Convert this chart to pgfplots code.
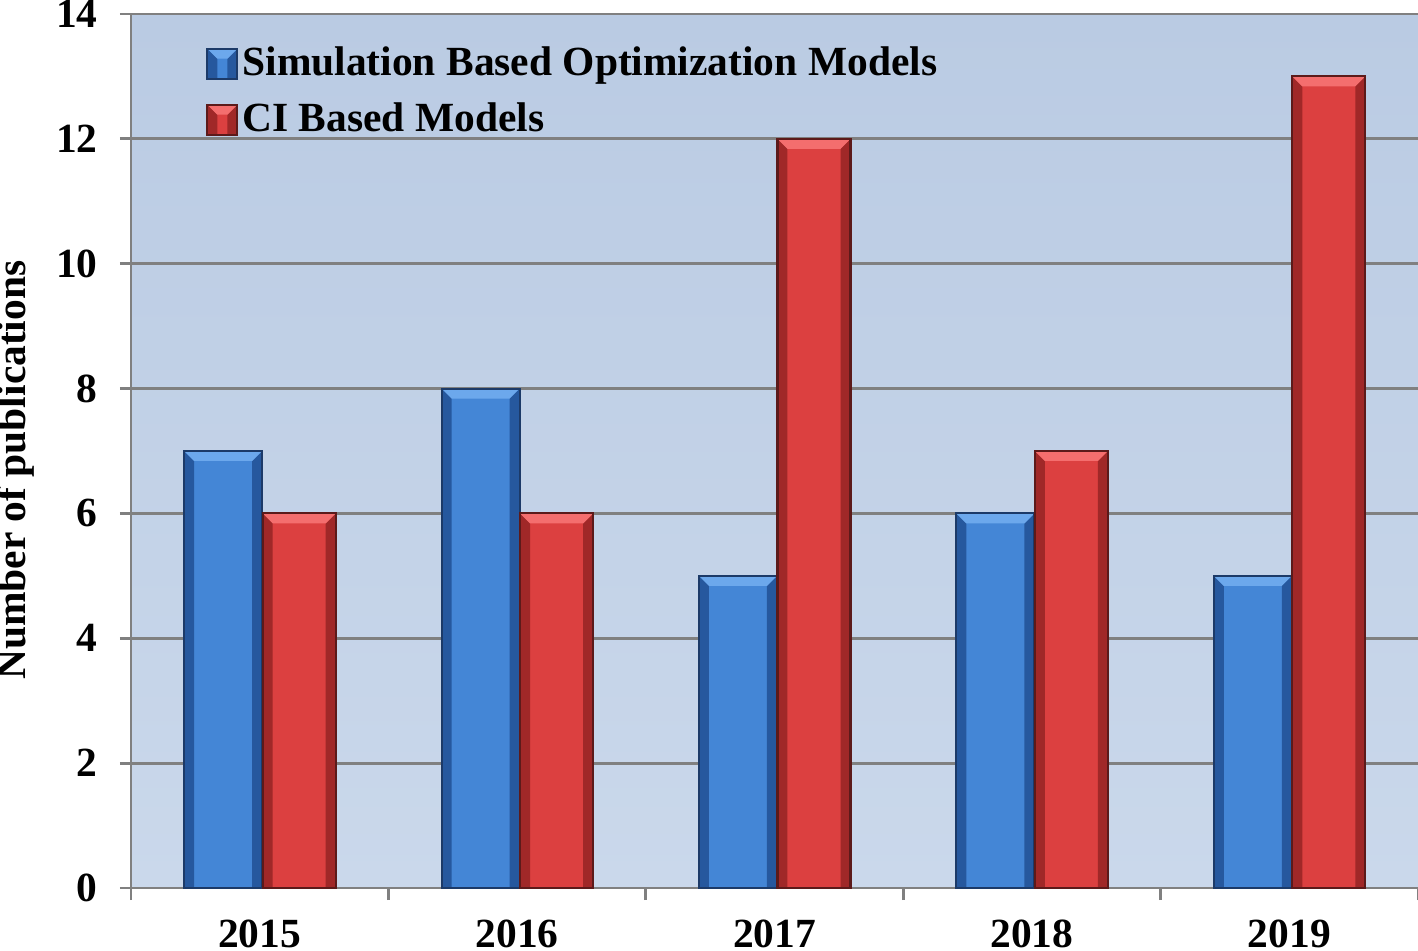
\documentclass[border=0pt]{standalone}
\usepackage{fontspec}
\setmainfont{Liberation Serif}
\usepackage{pgfplots}
\pgfplotsset{compat=1.18}
\definecolor{axisgray}{RGB}{128,128,128}
\definecolor{bgtop}{RGB}{186,203,227}
\definecolor{bgbot}{RGB}{202,216,235}
\definecolor{bMain}{RGB}{68,134,214}
\definecolor{bLight}{RGB}{108,168,236}
\definecolor{bDark}{RGB}{38,88,158}
\definecolor{bEdge}{RGB}{28,58,104}
\definecolor{rMain}{RGB}{220,64,64}
\definecolor{rLight}{RGB}{244,110,110}
\definecolor{rDark}{RGB}{160,40,40}
\definecolor{rEdge}{RGB}{92,26,26}
\newcommand{\lblfont}{\fontsize{11.8}{14}\selectfont\bfseries}
% bevel drawn with basic-layer paths so the path picture does not recurse
\newcommand{\bevel}[2]{%
  \pgfpointanchor{path picture bounding box}{south west}\pgfgetlastxy{\xa}{\ya}%
  \pgfpointanchor{path picture bounding box}{north east}\pgfgetlastxy{\xb}{\yb}%
  \def\d{1mm}%
  \pgfsetfillcolor{#2}%
  \pgfpathmoveto{\pgfqpoint{\xa}{\yb}}\pgfpathlineto{\pgfqpoint{\xa}{\ya}}%
  \pgfpathlineto{\pgfpoint{\xa+\d}{\ya}}\pgfpathlineto{\pgfpoint{\xa+\d}{\yb-\d}}%
  \pgfpathclose\pgfusepath{fill}%
  \pgfpathmoveto{\pgfqpoint{\xb}{\yb}}\pgfpathlineto{\pgfqpoint{\xb}{\ya}}%
  \pgfpathlineto{\pgfpoint{\xb-\d}{\ya}}\pgfpathlineto{\pgfpoint{\xb-\d}{\yb-\d}}%
  \pgfpathclose\pgfusepath{fill}%
  \pgfsetfillcolor{#1}%
  \pgfpathmoveto{\pgfqpoint{\xa}{\yb}}\pgfpathlineto{\pgfqpoint{\xb}{\yb}}%
  \pgfpathlineto{\pgfpoint{\xb-\d}{\yb-\d}}\pgfpathlineto{\pgfpoint{\xa+\d}{\yb-\d}}%
  \pgfpathclose\pgfusepath{fill}%
}
\tikzset{
  bevelbar/.style n args={4}{
    draw=#4, line width=0.6pt, fill=#1,
    path picture={\bevel{#2}{#3}}
  },
  simbar/.style={bar width=7.8mm, bar shift=-3.65mm, bevelbar={bMain}{bLight}{bDark}{bEdge}},
  cibar/.style={bar width=7.3mm, bar shift=3.95mm, bevelbar={rMain}{rLight}{rDark}{rEdge}},
}
\begin{document}
\begin{tikzpicture}
\begin{axis}[
  scale only axis,
  width=12.87cm, height=8.74cm,
  xmin=-0.5, xmax=4.5, ymin=0, ymax=14,
  ytick={0,2,...,14},
  xtick={0,...,4},
  xticklabels={2015,2016,2017,2018,2019},
  minor xtick={-0.5,0.5,...,4.5},
  axis x line*=bottom, axis y line*=left,
  axis line style={draw=axisgray, line width=0.8pt},
  ymajorgrids,
  grid style={draw=axisgray, line width=0.8pt},
  tick align=outside,
  major tick length=1.1mm,
  minor tick length=1.2mm,
  major x tick style={draw=none},
  minor x tick style={draw=axisgray, line width=0.8pt},
  y tick style={draw=axisgray, line width=0.8pt},
  /pgf/number format/assume math mode=true,
  tick label style={font=\lblfont},
  xticklabel style={yshift=-0.8mm},
  yticklabel style={xshift=-1mm},
  ylabel={Number of publications},
  ylabel style={font=\lblfont, at={([xshift=-11.6mm]axis description cs:0,0.478)}, anchor=center},
  axis background/.style={top color=bgtop, bottom color=bgbot},
  ybar,
  legend style={at={(axis description cs:0.058,0.968)}, anchor=north west,
    draw=none, fill=none, font=\lblfont, inner sep=0pt,
    row sep=1.4mm, nodes={inner sep=0.4mm}},
  legend cell align=left,
  legend image code/.code={\draw[#1] (0mm,-1.5mm) rectangle (3mm,1.5mm);},
]
% Simulation Based Optimization Models (one plot per bar so each bar gets its own bevel)
\addplot[simbar] coordinates {(0,7)};
\addlegendentry{Simulation Based Optimization Models}
\addplot[simbar, forget plot] coordinates {(1,8)};
\addplot[simbar, forget plot] coordinates {(2,5)};
\addplot[simbar, forget plot] coordinates {(3,6)};
\addplot[simbar, forget plot] coordinates {(4,5)};
% CI Based Models
\addplot[cibar] coordinates {(0,6)};
\addlegendentry{CI Based Models}
\addplot[cibar, forget plot] coordinates {(1,6)};
\addplot[cibar, forget plot] coordinates {(2,12)};
\addplot[cibar, forget plot] coordinates {(3,7)};
\addplot[cibar, forget plot] coordinates {(4,13)};
\end{axis}
\pgfresetboundingbox
\path ([shift={(-13.1mm,-6.2mm)}]current axis.south west) rectangle ([shift={(0mm,1.4mm)}]current axis.north east);
\end{tikzpicture}
\end{document}
